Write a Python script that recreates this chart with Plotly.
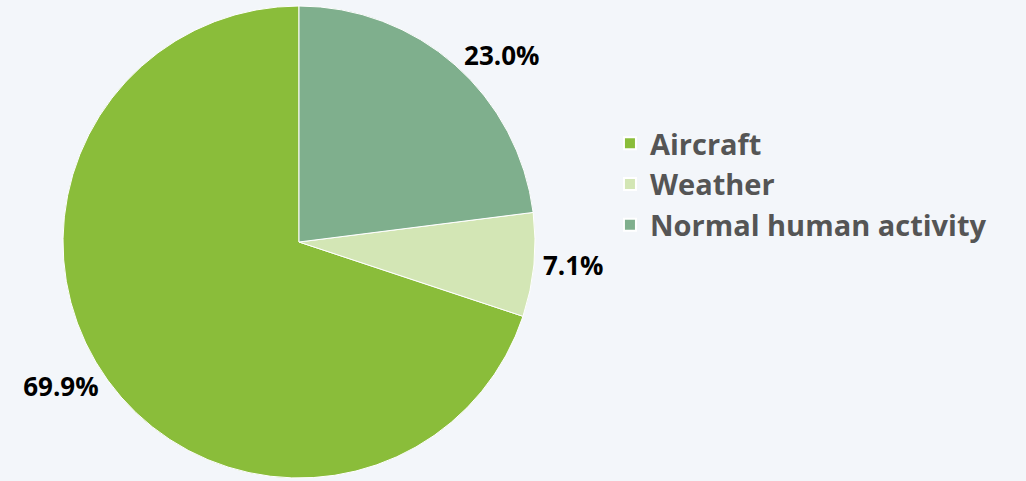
import plotly.graph_objects as go

labels = ["Aircraft", "Weather", "Normal human activity"]
values = [69.9, 7.1, 23.0]
colors = ["#8abd3a", "#d3e6b5", "#7faf8d"]

# first slice (Aircraft) ends at 12 o'clock going counterclockwise
start_rotation = 360 * (1 - values[0] / sum(values))

fig = go.Figure(go.Pie(
    labels=labels,
    values=values,
    sort=False,
    direction="counterclockwise",
    rotation=start_rotation,
    automargin=False,
    marker=dict(colors=colors, line=dict(color="#ffffff", width=1)),
    texttemplate="%{value:.1f}%",
    textposition="outside",
    textfont=dict(family="Open Sans", size=26, color="#000000", weight="bold"),
    domain=dict(x=[63/1026, 535/1026], y=[1 - 478/481, 1 - 6/481]),
    hoverinfo="label+percent",
))

fig.update_layout(
    width=1026, height=481,
    margin=dict(l=0, r=0, t=0, b=0, autoexpand=False),
    paper_bgcolor="#f3f6fa",
    plot_bgcolor="#f3f6fa",
    showlegend=True,
    legend=dict(
        x=0.5945, y=0.7547, xanchor="left", yanchor="top",
        font=dict(family="Open Sans", size=29, color="#555555", weight="bold"),
        itemsizing="constant",
        tracegroupgap=0,
        bgcolor="rgba(0,0,0,0)",
    ),
)

fig.write_html("out.html", config={"displayModeBar": False},
               post_script="document.body.style.margin='0';document.body.style.background='#f3f6fa';")
